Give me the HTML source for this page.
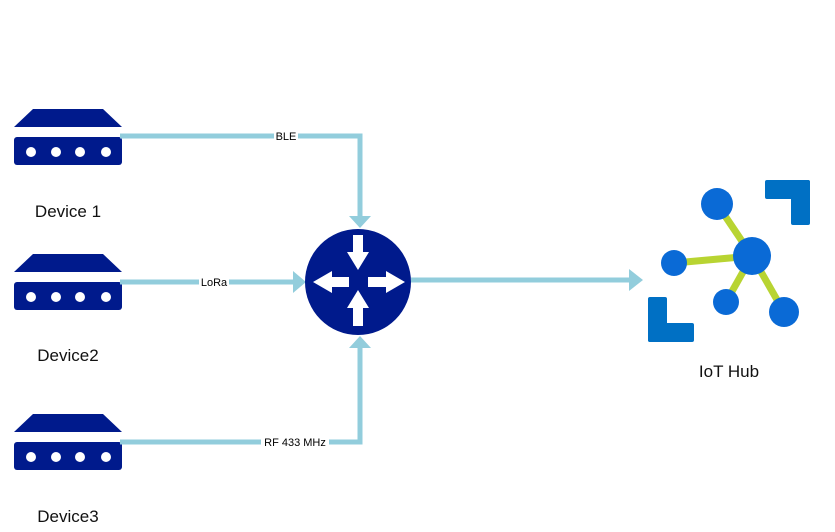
<!DOCTYPE html>
<html><head><style>body{margin:0;background:#fff}svg{display:block}text{font-family:"Liberation Sans",sans-serif}</style></head>
<body>
<svg width="835" height="532" viewBox="0 0 835 532" xmlns="http://www.w3.org/2000/svg">
<defs>
<g id="dev">
<polygon points="33,0 103,0 122,18 14,18" fill="#001a8c"/>
<rect x="14" y="28" width="108" height="28" rx="3" fill="#001a8c"/>
<circle cx="31" cy="43" r="5" fill="#fff"/><circle cx="56" cy="43" r="5" fill="#fff"/>
<circle cx="80" cy="43" r="5" fill="#fff"/><circle cx="106" cy="43" r="5" fill="#fff"/>
</g>
</defs>
<use href="#dev" y="109"/><use href="#dev" y="254"/><use href="#dev" y="414"/>
<text x="68" y="217" font-size="17" text-anchor="middle" fill="#111">Device 1</text>
<text x="68" y="361" font-size="17" text-anchor="middle" fill="#111">Device2</text>
<text x="68" y="522" font-size="17" text-anchor="middle" fill="#111">Device3</text>
<g stroke="#92cddc" stroke-width="5" fill="none">
<polyline points="120,136 360,136 360,216"/>
<line x1="120" y1="282" x2="294" y2="282"/>
<polyline points="120,442 360,442 360,348"/>
<line x1="411" y1="280" x2="630" y2="280"/>
</g>
<g fill="#92cddc">
<polygon points="349,216 371,216 360,228"/>
<polygon points="293,271 293,293 306,282"/>
<polygon points="349,348 371,348 360,336"/>
<polygon points="629,269 629,291 643,280"/>
</g>
<rect x="274" y="129" width="24" height="14" fill="#fff"/><text x="286" y="140" font-size="11" text-anchor="middle">BLE</text>
<rect x="199" y="275" width="30" height="14" fill="#fff"/><text x="214" y="286" font-size="11" text-anchor="middle">LoRa</text>
<rect x="261" y="435" width="68" height="14" fill="#fff"/><text x="295" y="446" font-size="11" text-anchor="middle">RF 433 MHz</text>
<circle cx="358" cy="282" r="53" fill="#001a8c"/>
<g fill="#fff">
<polygon points="353,235 363,235 363,252 369,252 358,270 347,252 353,252"/>
<polygon points="353,326 363,326 363,308 369,308 358,290 347,308 353,308"/>
<polygon points="349,277 332,277 332,271 313,282 332,293 332,287 349,287"/>
<polygon points="368,277 386,277 386,271 405,282 386,293 386,287 368,287"/>
</g>
<g stroke="#b8d432" stroke-width="7">
<line x1="717" y1="204" x2="752" y2="256"/><line x1="674" y1="263" x2="752" y2="256"/>
<line x1="726" y1="302" x2="752" y2="256"/><line x1="784" y1="312" x2="752" y2="256"/>
</g>
<g fill="#0a6ad6">
<circle cx="717" cy="204" r="16"/><circle cx="752" cy="256" r="19"/><circle cx="674" cy="263" r="13"/>
<circle cx="726" cy="302" r="13"/><circle cx="784" cy="312" r="15"/>
</g>
<g fill="#0070c4">
<rect x="765" y="180" width="45" height="19" rx="2"/><rect x="791" y="180" width="19" height="45" rx="2"/>
<rect x="648" y="297" width="19" height="45" rx="2"/><rect x="648" y="323" width="46" height="19" rx="2"/>
</g>
<text x="729" y="377" font-size="17" text-anchor="middle" fill="#111">IoT Hub</text>
</svg>
</body></html>
